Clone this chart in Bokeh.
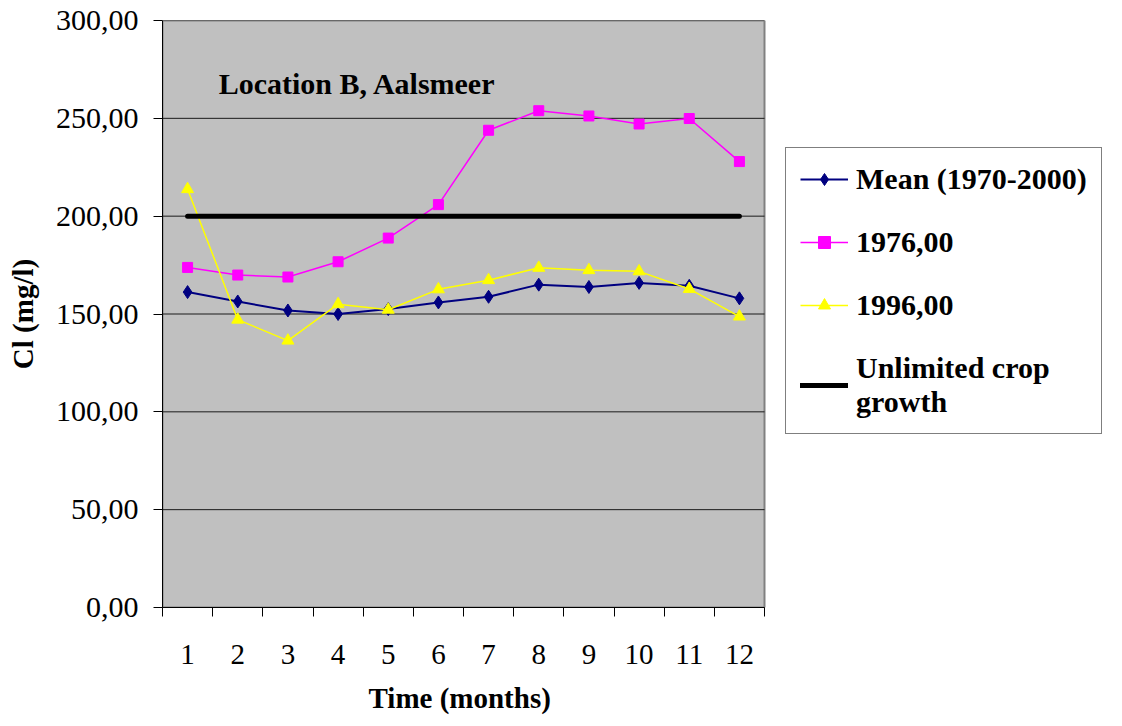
from bokeh.plotting import figure
from bokeh.models import FixedTicker, Range1d, Label, Legend, LegendItem, Title
from bokeh.embed import file_html
from bokeh.resources import INLINE

months = list(range(1, 13))
month_labels = [str(m) for m in months]
mean_vals = [161.2, 156.4, 151.8, 150.0, 152.5, 155.9, 158.8, 165.0, 163.8, 165.9, 164.4, 158.0]
y1976 = [173.8, 169.9, 168.9, 176.7, 188.8, 205.9, 243.9, 253.9, 251.2, 247.1, 249.9, 227.9]
y1996 = [213.8, 147.1, 136.4, 155.0, 152.2, 162.6, 167.3, 173.6, 172.4, 171.8, 162.8, 148.7]
limit = [200.0] * 12
y_ticks = [0, 50, 100, 150, 200, 250, 300]
y_tick_labels = ["0,00", "50,00", "100,00", "150,00", "200,00", "250,00", "300,00"]
series_names = ["Mean (1970-2000)", "1976,00", "1996,00", "Unlimited crop\ngrowth"]
title_text = "Location B, Aalsmeer"
x_title = "Time (months)"
y_title = "Cl (mg/l)"

FONT = "Liberation Serif"

# plot area spans categories 0.5..12.5 (602 px); the frame is extended to the right
# so that the legend (drawn inside the frame) can sit to the right of the grey area
X0, X1 = 0.5, 12.5
px_per_unit = 602 / 12
x_end = X0 + (1122 - 162) / px_per_unit

p = figure(width=1122, height=726, output_backend="svg", toolbar_location=None,
           x_range=Range1d(X0, x_end), y_range=Range1d(0, 300),
           min_border_left=162, min_border_right=0, min_border_top=20, min_border_bottom=118)
p.background_fill_color = "white"
p.border_fill_color = "white"
p.outline_line_color = None

# grey plot area
p.quad(left=[X0], right=[X1], bottom=[0], top=[300], fill_color="#C0C0C0",
       line_color="#808080", line_width=2, level="image")

# grid (horizontal lines limited to plot area)
p.xgrid.visible = False
p.ygrid.visible = False
p.segment(x0=[X0] * len(y_ticks), x1=[X1] * len(y_ticks), y0=y_ticks, y1=y_ticks,
          line_color="#1a1a1a", line_width=1, level="underlay")

# y axis
p.yaxis.ticker = FixedTicker(ticks=y_ticks)
p.yaxis.major_label_overrides = {t: l for t, l in zip(y_ticks, y_tick_labels)}
p.yaxis.major_tick_out = 9
p.yaxis.major_tick_in = 0
p.yaxis.minor_tick_out = 0
p.yaxis.minor_tick_in = 0
p.yaxis.major_label_standoff = 15
p.yaxis.axis_line_color = "black"
p.yaxis.major_tick_line_color = "black"
p.yaxis.major_label_text_font = FONT
p.yaxis.major_label_text_font_size = "30px"
p.yaxis.major_label_text_color = "black"
p.yaxis.axis_label = y_title
p.yaxis.axis_label_text_font = FONT
p.yaxis.axis_label_text_font_style = "bold"
p.yaxis.axis_label_text_font_size = "29px"
p.yaxis.axis_label_text_color = "black"
p.yaxis.axis_label_standoff = 14

# x axis
p.xaxis.ticker = FixedTicker(ticks=months, minor_ticks=[m - 0.5 for m in months] + [12.5])
p.xaxis.bounds = (X0, X1)
p.xaxis.major_label_overrides = {m: l for m, l in zip(months, month_labels)}
p.xaxis.major_tick_out = 0
p.xaxis.major_tick_in = 0
p.xaxis.minor_tick_out = 9
p.xaxis.minor_tick_in = 0
p.xaxis.minor_tick_line_color = "black"
p.xaxis.axis_line_color = "black"
p.xaxis.major_label_standoff = 28
p.xaxis.major_label_text_font = FONT
p.xaxis.major_label_text_font_size = "29px"
p.xaxis.major_label_text_color = "black"

# x axis title centred under the grey plot area
xt = Title(text=x_title, align="left", offset=206, standoff=26,
           text_font=FONT, text_font_style="bold", text_font_size="29px", text_color="black")
p.add_layout(xt, "below")

# series
l_mean = p.line(months, mean_vals, line_color="#000080", line_width=2)
s_mean = p.scatter(months, mean_vals, marker="diamond", size=13, fill_color="#000080", line_color="#000080")
l_76 = p.line(months, y1976, line_color="#FF00FF", line_width=1.5)
s_76 = p.scatter(months, y1976, marker="square", size=10, fill_color="#FF00FF", line_color="#FF00FF")
l_96 = p.line(months, y1996, line_color="#FFFF00", line_width=1.5)
s_96 = p.scatter(months, y1996, marker="triangle", size=12, fill_color="#FFFF00", line_color="#FFFF00")
l_lim = p.line(months, limit, line_color="black", line_width=5, line_cap="round")

title = Label(x=1.62, y=268, text=title_text, text_font=FONT, text_font_style="bold",
              text_font_size="30px", text_color="black", text_baseline="alphabetic")
p.add_layout(title)

legend = Legend(items=[
    LegendItem(label=series_names[0], renderers=[l_mean, s_mean]),
    LegendItem(label=series_names[1], renderers=[l_76, s_76]),
    LegendItem(label=series_names[2], renderers=[l_96, s_96]),
    LegendItem(label=series_names[3], renderers=[l_lim]),
], location=(623, 173))
legend.label_text_font = FONT
legend.label_text_font_style = "bold"
legend.label_text_font_size = "30px"
legend.label_text_color = "black"
legend.border_line_color = "black"
legend.border_line_width = 1
legend.background_fill_color = "white"
legend.background_fill_alpha = 1
legend.padding = 14
legend.margin = 0
legend.spacing = 29
legend.glyph_width = 48
legend.glyph_height = 30
legend.label_height = 30
legend.label_standoff = 8
p.add_layout(legend)

open("out.html", "w").write(file_html(p, INLINE))
